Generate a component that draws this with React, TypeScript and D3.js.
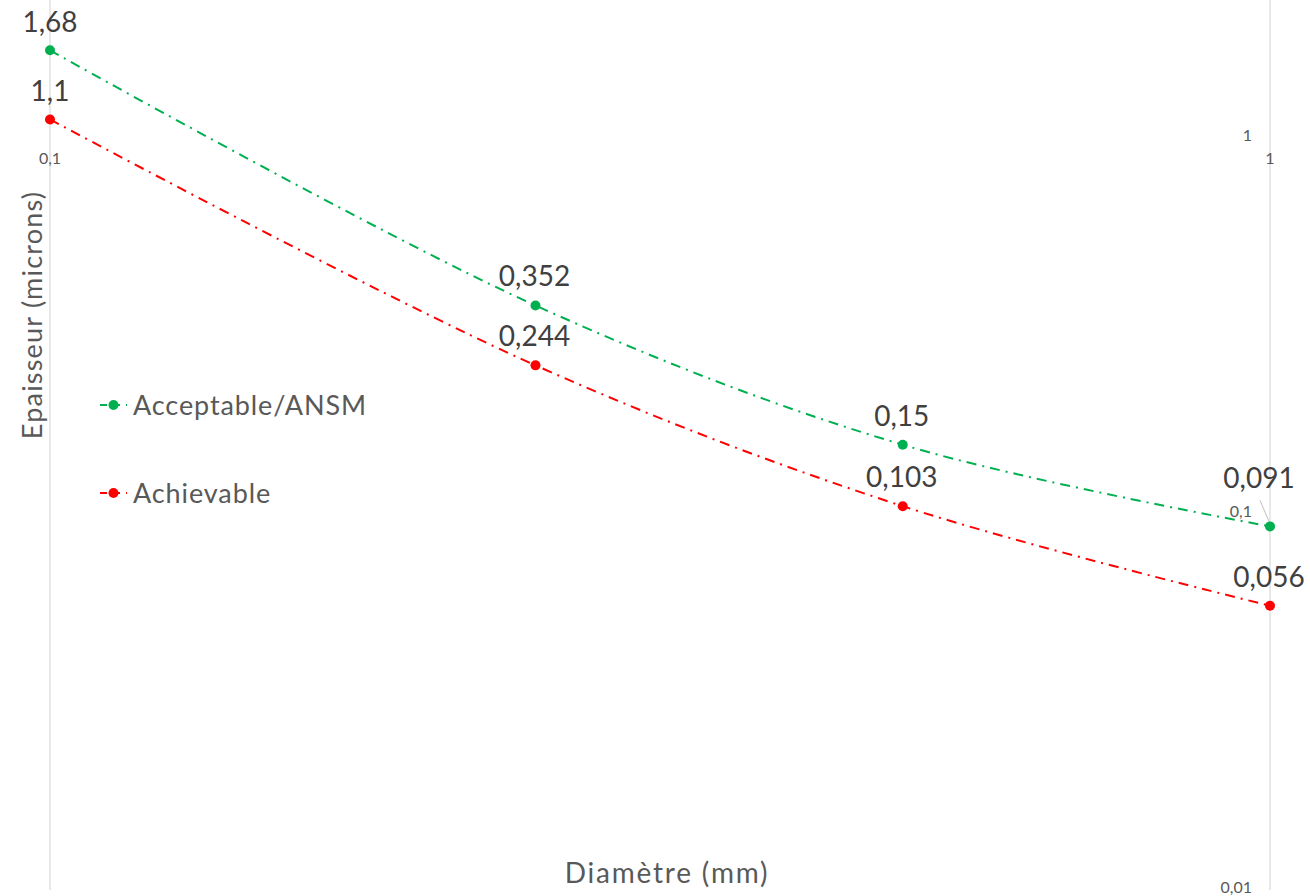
import React from "react";
import * as d3 from "d3";

// Diameter (mm) of each measurement point
const diameters = [0.1, 0.25, 0.5, 1];
// Thickness (microns) per series
const acceptableValues = [1.68, 0.352, 0.15, 0.091];
const achievableValues = [1.1, 0.244, 0.103, 0.056];
const seriesNames = ["Acceptable/ANSM", "Achievable"];
const seriesColors = ["#00B050", "#FF0000"];
const xTicks = [0.1, 1];
const yTicks = [1, 0.1, 0.01];

const W = 1310;
const H = 896;
const FONT = "Lato, 'Open Sans', sans-serif";

const fmt = (v: number) => String(v).replace(".", ",");

export default function App() {
  const x = d3.scaleLog().domain([0.1, 1]).range([50, 1270]);
  const y = d3.scaleLog().domain([0.01, 1]).range([887, 135]);

  const series = [
    { name: seriesNames[0], color: seriesColors[0], values: acceptableValues },
    { name: seriesNames[1], color: seriesColors[1], values: achievableValues },
  ];

  const line = d3
    .line<[number, number]>()
    .x((d) => x(d[0]))
    .y((d) => y(d[1]))
    .curve(d3.curveCatmullRom.alpha(0.5));

  // per-label nudges so labels sit clear of the axis lines
  const labelShift = (si: number, i: number): [number, number] => {
    if (si === 0 && i === 3) return [-11, -38];
    if (i === 0) return [0, -18];
    return [-1, -19];
  };

  return (
    <svg width={W} height={H} style={{ position: "absolute", left: 0, top: 0, background: "#fff" }} fontFamily={FONT}>
      {/* vertical grid / axis lines */}
      {xTicks.map((t) => (
        <line key={"g" + t} x1={x(t)} x2={x(t)} y1={0} y2={890} stroke="#d9d9d9" strokeWidth={1.2} />
      ))}

      {/* x tick labels (axis crosses at y = 1) */}
      {xTicks.map((t) => (
        <text key={"xt" + t} x={x(t)} y={y(1) + 29} textAnchor="middle" fontSize={16} fill="#595959">
          {fmt(t)}
        </text>
      ))}

      {/* y tick labels (axis crosses at x = 1) */}
      {yTicks.map((t) => (
        <text key={"yt" + t} x={x(1) - 18} y={y(t) + 6} textAnchor="end" fontSize={16} fill="#595959">
          {fmt(t)}
        </text>
      ))}

      {/* series lines */}
      {series.map((s) => (
        <path
          key={"l" + s.name}
          d={line(diameters.map((d, i) => [d, s.values[i]] as [number, number])) || ""}
          fill="none"
          stroke={s.color}
          strokeWidth={2}
          strokeDasharray="10,6,2,6"
        />
      ))}

      {/* leader line for the offset label */}
      <line x1={x(1) - 10} y1={y(acceptableValues[3]) - 26} x2={x(1) - 1} y2={y(acceptableValues[3]) - 5} stroke="#bfbfbf" strokeWidth={1} />

      {/* markers */}
      {series.map((s) =>
        diameters.map((d, i) => (
          <circle key={s.name + i} cx={x(d)} cy={y(s.values[i])} r={5} fill={s.color} />
        ))
      )}

      {/* data labels */}
      {series.map((s, si) =>
        diameters.map((d, i) => {
          const [dx, dy] = labelShift(si, i);
          return (
            <text key={"dl" + s.name + i} x={x(d) + dx} y={y(s.values[i]) + dy} textAnchor="middle" fontSize={28} fill="#404040">
              {fmt(s.values[i])}
            </text>
          );
        })
      )}

      {/* legend */}
      {series.map((s, i) => {
        const ly = 405 + i * 88;
        return (
          <g key={"lg" + s.name}>
            <line x1={100} x2={127} y1={ly} y2={ly} stroke={s.color} strokeWidth={2} strokeDasharray="7,6" />
            <circle cx={113.5} cy={ly} r={5} fill={s.color} />
            <text x={133} y={ly + 10} fontSize={27} letterSpacing={0.9} fill="#595959">
              {s.name}
            </text>
          </g>
        );
      })}

      {/* axis titles */}
      <text transform="translate(42,315) rotate(-90)" textAnchor="middle" fontSize={27} letterSpacing={1.2} fill="#595959">
        Epaisseur (microns)
      </text>
      <text x={667} y={883} textAnchor="middle" fontSize={28} letterSpacing={1.8} fill="#595959">
        Diamètre (mm)
      </text>
    </svg>
  );
}
